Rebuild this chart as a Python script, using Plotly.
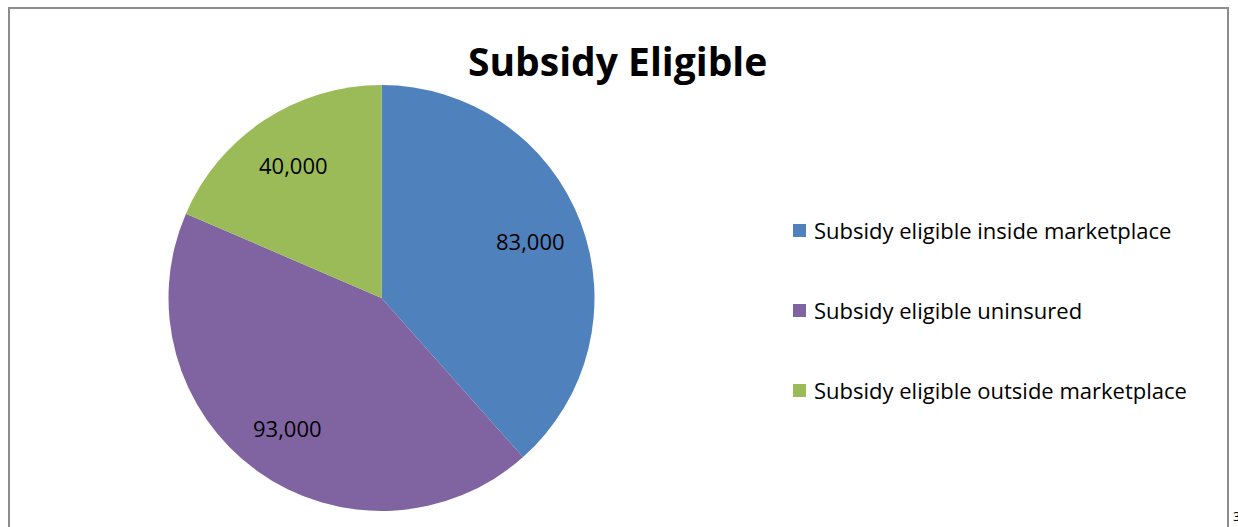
import math
import plotly.graph_objects as go

categories = ["Subsidy eligible inside marketplace", "Subsidy eligible uninsured", "Subsidy eligible outside marketplace"]
values = [83000, 93000, 40000]
colors = ["#4F81BD", "#8064A2", "#9BBB59"]
title_text = "Subsidy Eligible"

W, H = 1238, 527
FONT = "Open Sans"

# pie domain (pixels)
px0, px1, py_top, py_bot = 168, 595, 85, 511
dom_x = [px0 / W, px1 / W]
dom_y = [(H - py_bot) / H, (H - py_top) / H]

fig = go.Figure()
fig.add_trace(go.Pie(
    labels=categories,
    values=values,
    sort=False,
    direction="clockwise",
    rotation=0,
    marker=dict(colors=colors, line=dict(width=0)),
    textinfo="none",
    domain=dict(x=dom_x, y=dom_y),
    showlegend=False,
    hoverinfo="label+value",
))

shapes = [dict(type="rect", xref="paper", yref="paper",
               x0=9 / W, x1=1228 / W, y0=-0.05, y1=1 - 8 / H,
               line=dict(color="#8c8c8c", width=2), fillcolor="rgba(0,0,0,0)")]
annotations = [dict(text="<b>%s</b>" % title_text, xref="paper", yref="paper",
                    x=617 / W, y=1 - 60 / H, xanchor="center", yanchor="middle",
                    showarrow=False, font=dict(family=FONT, size=39, color="black")),
               dict(text="3", xref="paper", yref="paper", x=1231 / W, y=1 - 516 / H,
                    xanchor="left", yanchor="middle", showarrow=False,
                    font=dict(family=FONT, size=13, color="black"))]

# data labels placed along each slice bisector (Excel "best fit" style)
cx = (px0 + px1) / 2
cy = (py_top + py_bot) / 2
r = min(px1 - px0, py_bot - py_top) / 2
total = sum(values)
cum = 0
for v in values:
    mid = (cum + v / 2) / total * 2 * math.pi
    cum += v
    lx = cx + 0.75 * r * math.sin(mid)
    ly = cy - 0.75 * r * math.cos(mid)
    annotations.append(dict(text=f"{v:,}", xref="paper", yref="paper",
                            x=lx / W, y=1 - ly / H, xanchor="center", yanchor="middle",
                            showarrow=False, font=dict(family=FONT, size=22, color="black")))

# legend drawn manually for Excel-like spacing
for i, (cat, col) in enumerate(zip(categories, colors)):
    yc = 230 + 80 * i
    shapes.append(dict(type="rect", xref="paper", yref="paper",
                       x0=793 / W, x1=806 / W, y0=1 - (yc + 7) / H, y1=1 - (yc - 6) / H,
                       line=dict(width=0), fillcolor=col))
    annotations.append(dict(text=cat, xref="paper", yref="paper",
                            x=812 / W, y=1 - yc / H, xanchor="left", yanchor="middle",
                            showarrow=False, font=dict(family=FONT, size=22, color="black")))

fig.update_layout(
    width=W, height=H,
    margin=dict(l=0, r=0, t=0, b=0),
    paper_bgcolor="white", plot_bgcolor="white",
    shapes=shapes, annotations=annotations,
)
fig.write_html("out.html")
